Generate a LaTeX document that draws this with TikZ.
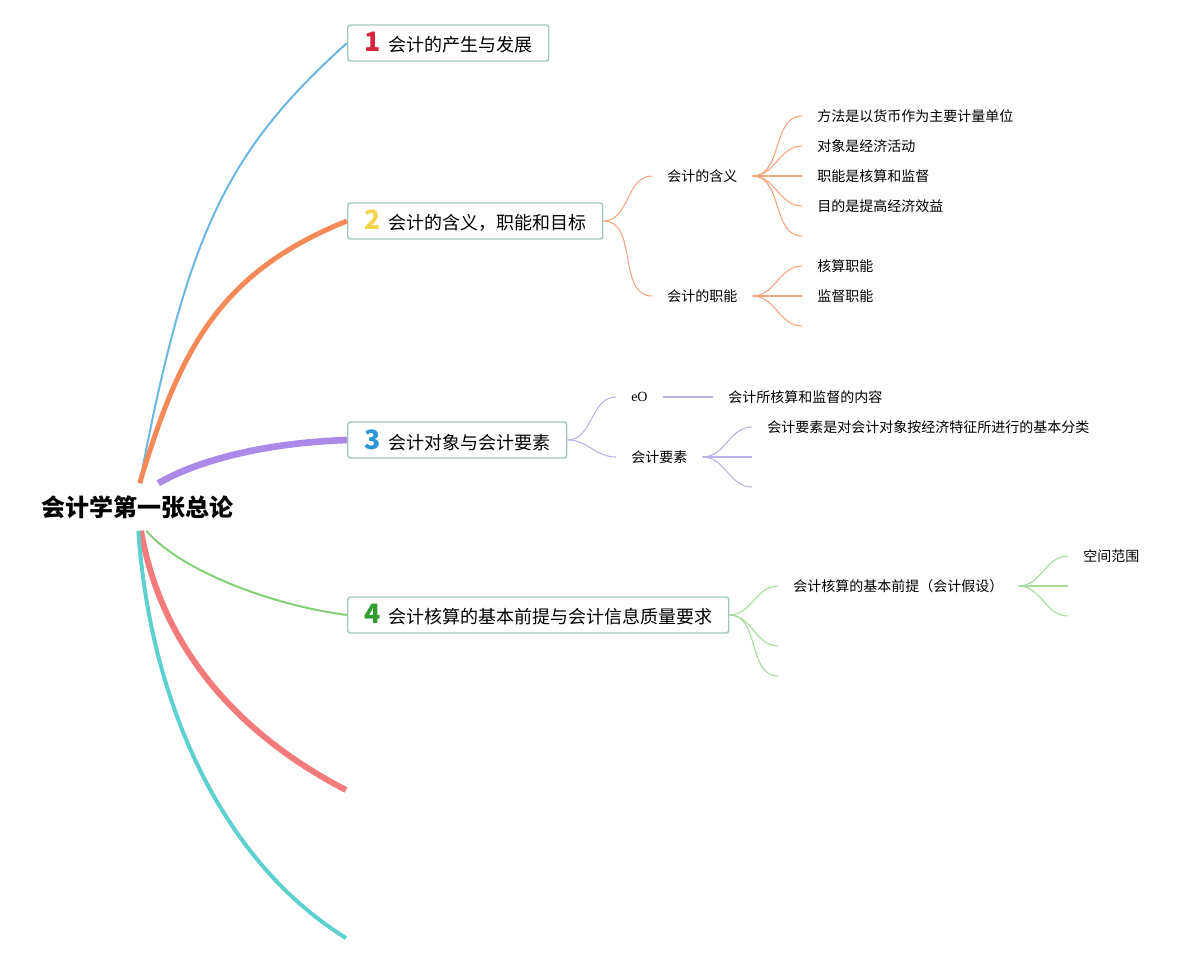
\documentclass[tikz,border=0pt]{standalone}
\usepackage{fontspec}
\setmainfont{Noto Sans CJK SC}
\newfontfamily\serifeo{Liberation Serif}
\usetikzlibrary{positioning}

\definecolor{cblue}{HTML}{6CB7E2}
\definecolor{corange}{HTML}{F58A58}
\definecolor{cpurple}{HTML}{A98AE9}
\definecolor{cgreen}{HTML}{86CF79}
\definecolor{cred}{HTML}{F47B7B}
\definecolor{ccyan}{HTML}{5CD1CF}
\definecolor{osub}{HTML}{F4A582}
\definecolor{psub}{HTML}{BDB0E6}
\definecolor{gsub}{HTML}{A8DA9C}
\definecolor{boxline}{HTML}{A4C8BD}
\definecolor{n1}{HTML}{D7263D}
\definecolor{n2}{HTML}{F3D54E}
\definecolor{n3}{HTML}{2A98D6}
\definecolor{n4}{HTML}{2F9E2F}

\tikzset{
  topic/.style={draw=boxline, line width=1.1pt, rounded corners=2pt, fill=white,
    anchor=west, inner sep=0pt, minimum height=27pt, font=\fontsize{13.5}{16}\selectfont},
  sub/.style={anchor=west, inner xsep=11.25pt, inner ysep=2pt, font=\fontsize{10.5}{12}\selectfont},
  link/.style={out=0, in=180},
}
\newcommand\badge[2]{{\color{#1}\fontsize{20}{20}\selectfont\bfseries #2}\hspace{6pt}}

\begin{document}
\begin{tikzpicture}[x=0.75pt, y=-0.75pt]
    \useasboundingbox (0,0) rectangle (1199,964);
    \node[inner sep=0pt, minimum height=35.25pt, font=\fontsize{18}{20}\selectfont\bfseries] (0) at (137,507) {会计学第一张总论};
    \node[topic, minimum width=150.75pt] (1) at (347,43) {\badge{n1}{1}会计的产生与发展};
    \node[topic, minimum width=191.25pt] (2) at (347,221) {\badge{n2}{2}会计的含义，职能和目标};
    \node[topic, minimum width=164.25pt] (3) at (347,440) {\badge{n3}{3}会计对象与会计要素};
    \node[topic, minimum width=285.75pt] (4) at (347,615) {\badge{n4}{4}会计核算的基本前提与会计信息质量要求};
    \coordinate (5) at (346,790);
    \coordinate (6) at (346,938);

    \draw[cblue, line width=1.5pt] ([xshift=2pt]0.north) .. controls (187,233) and (227,151) .. (1.west);
    \draw[corange, line width=3.75pt] ([xshift=2pt]0.north) .. controls (179,353) and (217,273) .. (2.west);
    \draw[cpurple, line width=5pt] ([xshift=16pt]0.north) .. controls (195,462) and (260,443) .. (3.west);
    \draw[cgreen, line width=1.5pt] ([xshift=7pt]0.south) .. controls (180,570) and (270,605) .. (4.west);
    \draw[cred, line width=4.5pt] ([xshift=3pt]0.south) .. controls (160,640) and (230,730) .. (5);
    \draw[ccyan, line width=3pt] ([xshift=1pt]0.south) .. controls (150,700) and (220,860) .. (6);

    \node[sub] (2a) at (652,176) {会计的含义};
    \node[sub] (2b) at (652,296) {会计的职能};
    \node[sub] (2a1) at (802,116) {方法是以货币作为主要计量单位};
    \node[sub] (2a2) at (802,146) {对象是经济活动};
    \node[sub] (2a3) at (802,176) {职能是核算和监督};
    \node[sub] (2a4) at (802,206) {目的是提高经济效益};
    \coordinate (2a5) at (802,236);
    \node[sub] (2b1) at (802,266) {核算职能};
    \node[sub] (2b2) at (802,296) {监督职能};
    \coordinate (2b3) at (802,326);
    \draw[osub, line width=0.8pt] (2) to[link] (2a); \draw[osub, line width=0.8pt] (2) to[link] (2b);
    \foreach \i in {1,...,5} \draw[osub, line width=0.8pt] (2a) to[link] (2a\i);
    \foreach \i in {1,2,3} \draw[osub, line width=0.8pt] (2b) to[link] (2b\i);

    \node[sub, font=\serifeo\fontsize{10.5}{12}\selectfont] (3a) at (616,397) {eO};
    \node[sub] (3a1) at (713,397) {会计所核算和监督的内容};
    \node[sub] (3b) at (616,457) {会计要素};
    \node[sub] (3b1) at (752,427) {会计要素是对会计对象按经济特征所进行的基本分类};
    \coordinate (3b2) at (752,457);
    \coordinate (3b3) at (752,487);
    \draw[psub, line width=0.8pt] (3) to[link] (3a); \draw[psub, line width=0.8pt] (3) to[link] (3b);
    \draw[psub, line width=1.1pt] (3a) -- (3a1);
    \foreach \i in {1,2,3} \draw[psub, line width=0.8pt] (3b) to[link] (3b\i);

    \node[sub] (4a) at (778,586) {会计核算的基本前提（会计假设）};
    \coordinate (4b) at (778,646);
    \coordinate (4c) at (778,676);
    \node[sub] (4a1) at (1068,556) {空间范围};
    \coordinate (4a2) at (1068,586);
    \coordinate (4a3) at (1068,616);
    \draw[gsub, line width=0.8pt] (4) to[link] (4a); \draw[gsub, line width=0.8pt] (4) to[link] (4b);
    \draw[gsub, line width=0.8pt] (4) to[link] (4c);
    \foreach \i in {1,2,3} \draw[gsub, line width=0.8pt] (4a) to[link] (4a\i);
\end{tikzpicture}
\end{document}
